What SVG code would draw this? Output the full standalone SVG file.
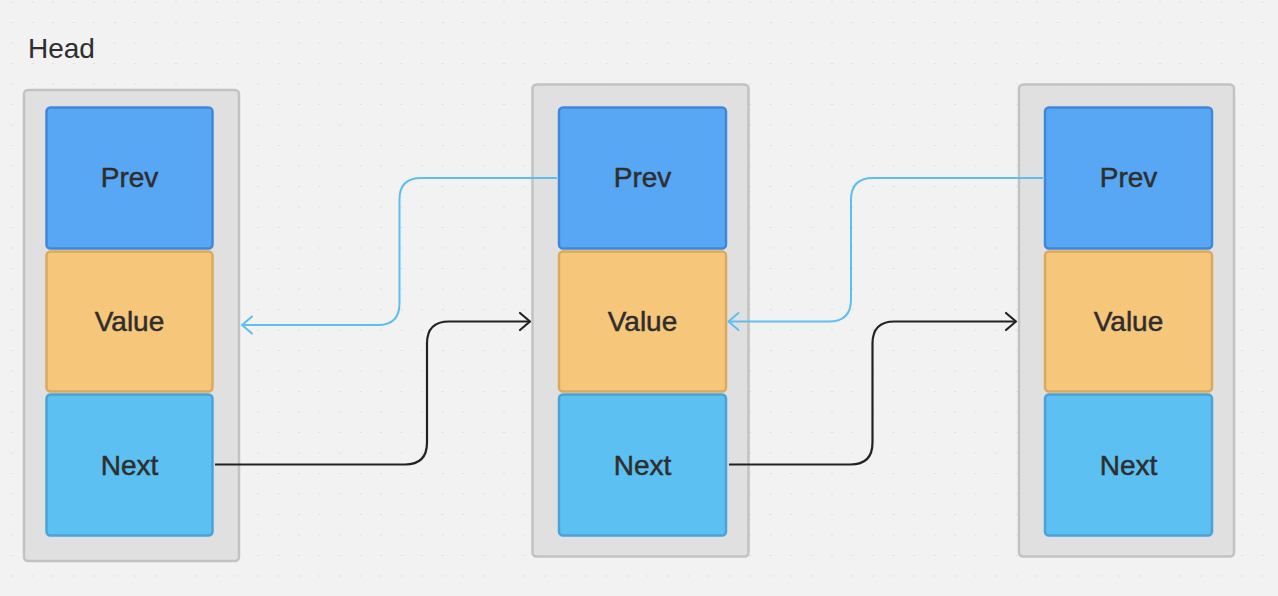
<svg xmlns="http://www.w3.org/2000/svg" width="1278" height="596" viewBox="0 0 1278 596">
<defs>
<pattern id="dots" x="1.5" y="1.5" width="20.5" height="20.5" patternUnits="userSpaceOnUse">
<circle cx="10.5" cy="0" r="1.1" fill="#d9d9d9"/>
</pattern>
<marker id="arrBlue" markerUnits="userSpaceOnUse" markerWidth="24" markerHeight="24" refX="0" refY="0" viewBox="-12 -12 24 24" orient="auto" overflow="visible">
<path d="M-10,-8.5 L0,0 L-10,8.5" fill="none" stroke="#5cbfef" stroke-width="2" stroke-linecap="round" stroke-linejoin="round"/>
</marker>
<marker id="arrBlack" markerUnits="userSpaceOnUse" markerWidth="24" markerHeight="24" refX="0" refY="0" viewBox="-12 -12 24 24" orient="auto" overflow="visible">
<path d="M-10,-8.5 L0,0 L-10,8.5" fill="none" stroke="#222222" stroke-width="2.2" stroke-linecap="round" stroke-linejoin="round"/>
</marker>
</defs>
<style>
.outer{fill:#e0e0e0;stroke:#c2c2c2;stroke-width:2.5}
.prev{fill:#58a7f5;stroke:#3f88d9;stroke-width:2.5}
.value{fill:#f6c77b;stroke:#dba95c;stroke-width:2.5}
.next{fill:#5cc1f2;stroke:#4aa2d6;stroke-width:2.5}
.lbl{font-family:"Liberation Sans",Arial,sans-serif;font-size:28px;fill:#2e2e2e;stroke:#2e2e2e;stroke-width:0.5;text-anchor:middle}
.head{font-family:"Liberation Sans",Arial,sans-serif;font-size:28px;fill:#2e2e2e}
.blue{fill:none;stroke:#5cbfef;stroke-width:2}
.black{fill:none;stroke:#222222;stroke-width:2.2}
</style>
<rect width="1278" height="596" fill="#f2f2f2"/>
<rect width="1278" height="596" fill="url(#dots)"/>
<text class="head" x="28" y="58">Head</text>

<g id="node1">
<rect class="outer" x="24" y="90" width="215" height="471" rx="4"/>
<rect class="prev" x="46.5" y="107.5" width="166" height="141" rx="4"/>
<text class="lbl" x="129.5" y="187">Prev</text>
<rect class="value" x="46.5" y="251.5" width="166" height="140" rx="4"/>
<text class="lbl" x="129.5" y="331">Value</text>
<rect class="next" x="46.5" y="394.5" width="166" height="141" rx="4"/>
<text class="lbl" x="129.5" y="475">Next</text>
</g>

<g id="node2">
<rect class="outer" x="532.5" y="84.5" width="216" height="472" rx="4"/>
<rect class="prev" x="559" y="107.5" width="167" height="141" rx="4"/>
<text class="lbl" x="642.5" y="187">Prev</text>
<rect class="value" x="559" y="251.5" width="167" height="140" rx="4"/>
<text class="lbl" x="642.5" y="331">Value</text>
<rect class="next" x="559" y="394.5" width="167" height="141" rx="4"/>
<text class="lbl" x="642.5" y="475">Next</text>
</g>

<g id="node3">
<rect class="outer" x="1019" y="84.5" width="215" height="472" rx="4"/>
<rect class="prev" x="1045" y="107.5" width="167" height="141" rx="4"/>
<text class="lbl" x="1128.5" y="187">Prev</text>
<rect class="value" x="1045" y="251.5" width="167" height="140" rx="4"/>
<text class="lbl" x="1128.5" y="331">Value</text>
<rect class="next" x="1045" y="394.5" width="167" height="141" rx="4"/>
<text class="lbl" x="1128.5" y="475">Next</text>
</g>

<g id="connectors">
<path class="blue" d="M557,178 L421,178 Q399.5,178 399.5,199.5 L399.5,303.5 Q399.5,325 378,325 L242,325" marker-end="url(#arrBlue)"/>
<path class="black" d="M215,464.5 L405,464.5 Q427,464.5 427,442.5 L427,343.5 Q427,321.5 449,321.5 L530,321.5" marker-end="url(#arrBlack)"/>
<path class="blue" d="M1043,178 L873,178 Q851,178 851,200 L851,299.5 Q851,321.5 829,321.5 L728.5,321.5" marker-end="url(#arrBlue)"/>
<path class="black" d="M729,464.5 L850.5,464.5 Q872.5,464.5 872.5,442.5 L872.5,343.5 Q872.5,321.5 894.5,321.5 L1016,321.5" marker-end="url(#arrBlack)"/>
</g>
</svg>
